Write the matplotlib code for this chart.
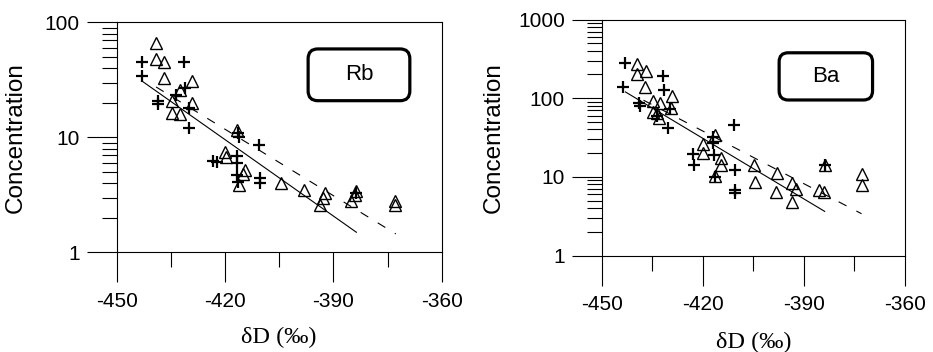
import matplotlib
matplotlib.use("Agg")
import matplotlib.pyplot as plt
from matplotlib.patches import FancyBboxPatch
from matplotlib.ticker import MultipleLocator, LogLocator, NullFormatter

plt.rcParams['font.family'] = ['Liberation Sans', 'DejaVu Sans']

# ---------------- data ----------------
# Rb panel
rb_tri_x = [-439.1, -439.2, -436.9, -436.9, -429.2, -432.5, -434.8, -429.2, -434.7, -432.5,
            -416.8, -420.0, -419.6, -414.5, -414.9, -416.2, -404.6, -398.1, -392.3, -392.8,
            -393.7, -385.1, -384.0, -383.7, -372.9, -372.9]
rb_tri_y = [65.7, 47.7, 45.5, 33.0, 30.9, 25.8, 20.9, 19.8, 16.2, 16.0,
            11.6, 7.5, 6.8, 5.2, 4.8, 3.86, 3.99, 3.49, 3.27, 2.96,
            2.59, 2.82, 3.16, 3.42, 2.82, 2.59]
rb_plus_x = [-443.1, -431.4, -443.1, -438.5, -438.5, -433.6, -431.1, -429.9, -429.9, -416.2,
             -410.5, -423.3, -422.3, -416.8, -416.8, -416.8, -410.3, -410.3, -416.5, -416.5,
             -383.7]
rb_plus_y = [45.5, 44.9, 34.1, 20.9, 19.5, 23.4, 27.2, 17.9, 12.0, 10.1,
             8.6, 6.2, 6.1, 6.9, 5.96, 4.71, 4.41, 4.04, 4.12, 11.0,
             3.3]
rb_fit_x = [-443.1, -383.5]
rb_fit_y = [31.1, 1.49]
rb_fit2_x = [-439.1, -372.7]
rb_fit2_y = [27.5, 1.45]

# Ba panel
ba_tri_x = [-439.4, -437.0, -439.4, -437.2, -434.9, -432.7, -434.7, -433.5, -432.9, -429.2,
            -429.4, -420.0, -420.0, -416.4, -414.7, -414.7, -416.4, -404.8, -404.5, -398.1,
            -398.3, -393.6, -392.3, -393.6, -385.4, -383.9, -383.7, -372.9, -372.9]
ba_tri_y = [269, 221, 203, 140, 92, 87.7, 67.4, 64.2, 55.4, 106.6,
            74.3, 26.2, 19.9, 34.0, 17.2, 14.1, 10.2, 14.1, 8.7, 11.1,
            6.5, 8.4, 7.1, 4.8, 6.9, 6.5, 14.1, 10.8, 7.9]
ba_plus_x = [-443.1, -443.6, -438.8, -431.7, -431.5, -429.7, -430.4, -422.8, -422.6, -416.9,
             -416.9, -416.7, -416.4, -410.7, -410.4, -410.4, -410.4, -383.7, -433.7, -438.6]
ba_plus_y = [283, 140, 86, 191, 127, 72, 41.4, 19.5, 14.1, 32.4,
             26.7, 19.0, 10.05, 45.6, 12.2, 6.8, 6.2, 14.1, 59.3, 79.5]
ba_fit_x = [-443.1, -383.7]
ba_fit_y = [121, 3.61]
ba_fit2_x = [-437.6, -372.9]
ba_fit2_y = [94.3, 3.40]

x_ticks = [-450, -420, -390, -360]
x_ticklabels = ['-450', '-420', '-390', '-360']
rb_yticks = [1, 10, 100]
rb_yticklabels = ['1', '10', '100']
ba_yticks = [1, 10, 100, 1000]
ba_yticklabels = ['1', '10', '100', '1000']

# ---------------- figure ----------------
fig = plt.figure(figsize=(9.33, 3.52), dpi=100)
ax1 = fig.add_axes([0.1251, 0.2827, 0.3483, 0.6534])
ax2 = fig.add_axes([0.6449, 0.2741, 0.3251, 0.6705])


def style(ax, tx, ty, px, py, fx, fy, f2x, f2y, yticks, ylabels, ylim,
          label, box, tpos, lab_x):
    ax.set_yscale('log')
    ax.set_xlim(-450, -360)
    ax.set_ylim(*ylim)
    ax.plot(fx, fy, color='black', lw=0.8, solid_capstyle='butt', zorder=2)
    ax.plot(f2x, f2y, color='black', lw=0.8, dashes=(8, 10), zorder=2)
    ax.plot(tx, ty, linestyle='none', marker='^', ms=8.5, mfc='none', mec='black',
            mew=1.0, zorder=3)
    ax.plot(px, py, linestyle='none', marker='+', ms=9, mec='black', mew=1.6, zorder=3)
    ax.set_xticks(x_ticks)
    ax.set_xticklabels(x_ticklabels)
    ax.xaxis.set_minor_locator(MultipleLocator(15))
    ax.set_yticks(yticks)
    ax.set_yticklabels(ylabels)
    ax.yaxis.set_minor_locator(LogLocator(base=10, subs=range(2, 10)))
    ax.yaxis.set_minor_formatter(NullFormatter())
    ax.tick_params(which='major', direction='out', length=21.5, width=0.8,
                   labelsize=15, colors='black')
    ax.tick_params(axis='x', which='major', pad=7)
    ax.tick_params(axis='y', which='major', pad=5)
    ax.tick_params(which='minor', direction='out', length=11, width=0.8)
    for s in ax.spines.values():
        s.set_linewidth(0.8)
    ax.set_ylabel('Concentration', fontsize=17.5)
    ax.yaxis.set_label_coords(lab_x, 0.5)
    ax.yaxis.label.set_va('center')
    ax.set_xlabel('δD (‰)', fontsize=17.5, family=['Liberation Serif', 'DejaVu Serif'])
    ax.xaxis.set_label_coords(0.5, -0.37)
    ax.xaxis.label.set_va('center')
    x0, x1, y0, y1, aspect = box
    patch = FancyBboxPatch((x0, y0), x1 - x0, y1 - y0,
                           boxstyle='round,pad=0,rounding_size=0.03',
                           mutation_aspect=aspect, transform=ax.transAxes,
                           facecolor='white', edgecolor='black', lw=2.3,
                           zorder=4, clip_on=False)
    ax.add_patch(patch)
    ax.text(tpos[0], tpos[1], label, transform=ax.transAxes, ha='center',
            va='center', fontsize=16, zorder=5)


style(ax1, rb_tri_x, rb_tri_y, rb_plus_x, rb_plus_y, rb_fit_x, rb_fit_y,
      rb_fit2_x, rb_fit2_y, rb_yticks, rb_yticklabels, (1, 100), 'Rb',
      (0.589, 0.902, 0.66, 0.885, 325 / 230), (0.7455, 0.772), -0.31)
style(ax2, ba_tri_x, ba_tri_y, ba_plus_x, ba_plus_y, ba_fit_x, ba_fit_y,
      ba_fit2_x, ba_fit2_y, ba_yticks, ba_yticklabels, (1, 1000), 'Ba',
      (0.585, 0.893, 0.659, 0.859, 303.3 / 236), (0.739, 0.759), -0.355)

fig.savefig('out.png', dpi=100)
